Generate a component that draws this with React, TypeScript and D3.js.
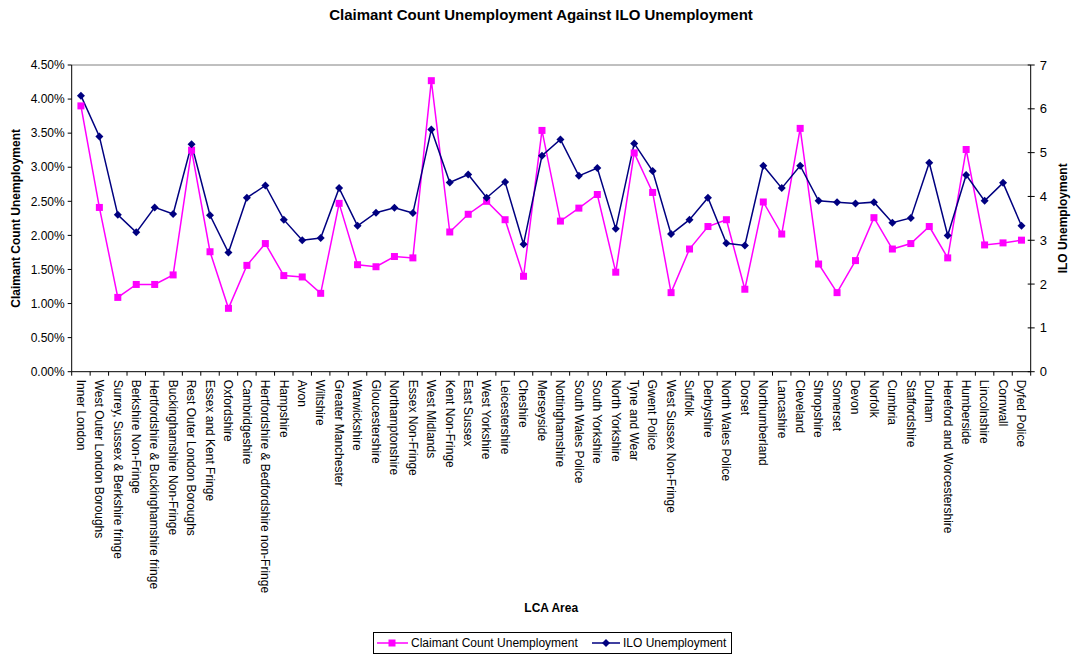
import React from "react";
import * as d3 from "d3";

// LCA areas along the category axis
const areas = [
  "Inner London",
  "West Outer London Boroughs",
  "Surrey, Sussex & Berkshire fringe",
  "Berkshire Non-Fringe",
  "Hertfordshire & Buckinghamshire fringe",
  "Buckinghamshire Non-Fringe",
  "Rest Outer London Boroughs",
  "Essex and Kent Fringe",
  "Oxfordshire",
  "Cambridgeshire",
  "Hertfordshire & Bedfordshire non-Fringe",
  "Hampshire",
  "Avon",
  "Wiltshire",
  "Greater Manchester",
  "Warwickshire",
  "Gloucestershire",
  "Northamptonshire",
  "Essex Non-Fringe",
  "West Midlands",
  "Kent Non-Fringe",
  "East Sussex",
  "West Yorkshire",
  "Leicestershire",
  "Cheshire",
  "Merseyside",
  "Nottinghamshire",
  "South Wales Police",
  "South Yorkshire",
  "North Yorkshire",
  "Tyne and Wear",
  "Gwent Police",
  "West Sussex Non-Fringe",
  "Suffolk",
  "Derbyshire",
  "North Wales Police",
  "Dorset",
  "Northumberland",
  "Lancashire",
  "Cleveland",
  "Shropshire",
  "Somerset",
  "Devon",
  "Norfolk",
  "Cumbria",
  "Staffordshire",
  "Durham",
  "Hereford and Worcestershire",
  "Humberside",
  "Lincolnshire",
  "Cornwall",
  "Dyfed Police",
];

// Claimant count rate (fraction), primary axis
const claimant = [
  0.039, 0.0241, 0.0109, 0.0128, 0.0128, 0.0142, 0.0325, 0.0176, 0.0093, 0.0156,
  0.0188, 0.0141, 0.0139, 0.0115, 0.0247, 0.0157, 0.0154, 0.0169, 0.0167, 0.0427,
  0.0205, 0.0231, 0.025, 0.0223, 0.014, 0.0354, 0.0221, 0.024, 0.026, 0.0146,
  0.0321, 0.0263, 0.0116, 0.018, 0.0213, 0.0223, 0.0121, 0.0249, 0.0202, 0.0357,
  0.0158, 0.0116, 0.0163, 0.0226, 0.018, 0.0188, 0.0213, 0.0167, 0.0326, 0.0186,
  0.0189, 0.0193,
];

// ILO unemployment rate (%), secondary axis
const ilo = [
  6.3, 5.37, 3.58, 3.18, 3.75, 3.6, 5.19, 3.57, 2.72, 3.97,
  4.25, 3.47, 3.0, 3.05, 4.19, 3.33, 3.63, 3.74, 3.62, 5.53,
  4.32, 4.5, 3.97, 4.33, 2.91, 4.93, 5.3, 4.47, 4.65, 3.26,
  5.21, 4.58, 3.14, 3.47, 3.97, 2.93, 2.88, 4.7, 4.19, 4.7,
  3.9, 3.87, 3.84, 3.87, 3.4, 3.51, 4.77, 3.11, 4.49, 3.9,
  4.31, 3.33,
];

const leftTicks = [0, 0.005, 0.01, 0.015, 0.02, 0.025, 0.03, 0.035, 0.04, 0.045];
const rightTicks = [0, 1, 2, 3, 4, 5, 6, 7];

const W = 1075;
const H = 655;
const plot = { left: 71.7, right: 1030.7, top: 65, bottom: 371.7 };
const PINK = "#FF00FF";
const NAVY = "#000080";
const FONT = "'Liberation Sans', Arial, sans-serif";

export default function App() {
  const x = d3.scaleBand<string>().domain(areas).range([plot.left, plot.right]).padding(0);
  const cx = (i: number) => (x(areas[i]) as number) + x.bandwidth() / 2;
  const yL = d3.scaleLinear().domain([0, 0.045]).range([plot.bottom, plot.top]);
  const yR = d3.scaleLinear().domain([0, 7]).range([plot.bottom, plot.top]);
  const fmt = d3.format(".2%");

  const claimantLine = d3
    .line<number>()
    .x((_, i) => cx(i))
    .y((d) => yL(d))(claimant) as string;
  const iloLine = d3
    .line<number>()
    .x((_, i) => cx(i))
    .y((d) => yR(d))(ilo) as string;

  const plotMid = (plot.left + plot.right) / 2;
  const yMid = (plot.top + plot.bottom) / 2;

  const boundaries = d3.range(areas.length + 1).map((i) =>
    i < areas.length ? (x(areas[i]) as number) : plot.right
  );

  const diamond = (px: number, py: number, r: number) =>
    `M${px},${py - r}L${px + r},${py}L${px},${py + r}L${px - r},${py}Z`;

  return (
    <svg width={W} height={H} style={{ position: "absolute", left: 0, top: 0, display: "block" }} fontFamily={FONT}>
      <rect width={W} height={H} fill="#fff" />
      <text x={541} y={20} textAnchor="middle" fontWeight="bold" fontSize={15}>
        Claimant Count Unemployment Against ILO Unemployment
      </text>

      {/* plot frame */}
      <line x1={plot.left} x2={plot.right} y1={plot.top} y2={plot.top} stroke="#808080" strokeWidth={1} />
      <line x1={plot.left} x2={plot.left} y1={plot.top} y2={plot.bottom} stroke="#000" strokeWidth={1} />
      <line x1={plot.right} x2={plot.right} y1={plot.top} y2={plot.bottom} stroke="#000" strokeWidth={1} />
      <line x1={plot.left} x2={plot.right} y1={plot.bottom} y2={plot.bottom} stroke="#000" strokeWidth={1} />

      {/* left axis */}
      {leftTicks.map((t) => (
        <g key={"l" + t}>
          <line x1={plot.left - 4} x2={plot.left} y1={yL(t)} y2={yL(t)} stroke="#000" />
          <text x={plot.left - 7} y={yL(t)} dy="0.35em" textAnchor="end" fontSize={12}>
            {fmt(t)}
          </text>
        </g>
      ))}
      <text
        transform={`translate(20,${yMid}) rotate(-90)`}
        textAnchor="middle"
        fontWeight="bold"
        fontSize={12}
      >
        Claimant Count Unemployment
      </text>

      {/* right axis */}
      {rightTicks.map((t) => (
        <g key={"r" + t}>
          <line x1={plot.right - 3} x2={plot.right + 4} y1={yR(t)} y2={yR(t)} stroke="#000" />
          <text x={plot.right + 9} y={yR(t)} dy="0.35em" textAnchor="start" fontSize={13}>
            {t}
          </text>
        </g>
      ))}
      <text
        transform={`translate(1067,${yMid}) rotate(-90)`}
        textAnchor="middle"
        fontWeight="bold"
        fontSize={12}
      >
        ILO Unemployment
      </text>

      {/* category axis */}
      {boundaries.map((b, i) => (
        <line key={"b" + i} x1={b} x2={b} y1={plot.bottom} y2={plot.bottom + 4} stroke="#000" />
      ))}
      {areas.map((a, i) => (
        <text
          key={a}
          transform={`translate(${cx(i)},${plot.bottom + 8}) rotate(90)`}
          dy="0.35em"
          textAnchor="start"
          fontSize={12}
        >
          {a}
        </text>
      ))}
      <text x={plotMid} y={612} textAnchor="middle" fontWeight="bold" fontSize={12}>
        LCA Area
      </text>

      {/* series */}
      <path d={claimantLine} fill="none" stroke={PINK} strokeWidth={1.5} />
      <path d={iloLine} fill="none" stroke={NAVY} strokeWidth={1.5} />
      {claimant.map((d, i) => (
        <rect key={"c" + i} x={cx(i) - 3.5} y={yL(d) - 3.5} width={7} height={7} fill={PINK} />
      ))}
      {ilo.map((d, i) => (
        <path key={"i" + i} d={diamond(cx(i), yR(d), 4)} fill={NAVY} />
      ))}

      {/* legend */}
      <rect x={373.5} y={632.5} width={358} height={21} fill="#fff" stroke="#000" strokeWidth={1} />
      <line x1={377} x2={408} y1={643} y2={643} stroke={PINK} strokeWidth={1.5} />
      <rect x={388.5} y={639.5} width={7} height={7} fill={PINK} />
      <text x={411} y={643} dy="0.35em" fontSize={12}>
        Claimant Count Unemployment
      </text>
      <line x1={592} x2={620} y1={643} y2={643} stroke={NAVY} strokeWidth={1.5} />
      <path d={diamond(606, 643, 4)} fill={NAVY} />
      <text x={623} y={643} dy="0.35em" fontSize={12}>
        ILO Unemployment
      </text>
    </svg>
  );
}
